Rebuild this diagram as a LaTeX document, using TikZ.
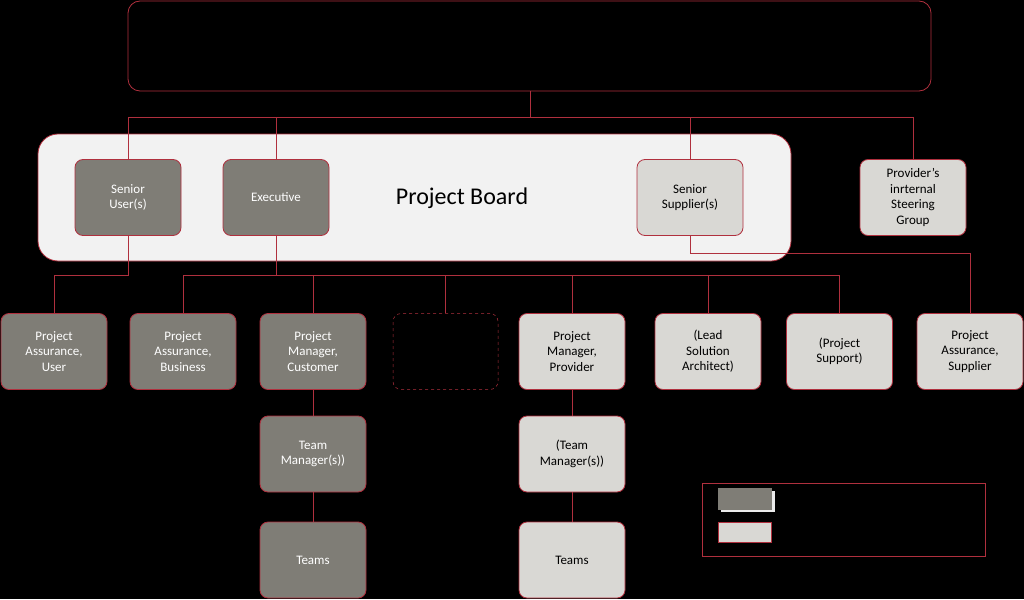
\documentclass[tikz,border=0pt]{standalone}
\usepackage{fontspec}
\setmainfont{Carlito}
\begin{document}
\begin{tikzpicture}[x=1pt,y=-1pt,
  ln/.style={draw=redc,line width=0.8pt},
  bx/.style={draw=redc,line width=0.8pt,rounded corners=8pt,minimum width=106pt,minimum height=76pt,align=center,font=\fontsize{13}{15.5}\selectfont,inner sep=1pt},
  dk/.style={bx,fill=darkg,text=white},
  lt/.style={bx,fill=lightg,text=black}]
\definecolor{redc}{HTML}{B0303E}
\definecolor{darkg}{HTML}{7F7D76}
\definecolor{lightg}{HTML}{D9D8D4}
\fill[black] (0,0) rectangle (1024,599);
\useasboundingbox (0,0) rectangle (1024,599);
\node[draw=redc,line width=0.8pt,rounded corners=12pt,minimum width=803pt,minimum height=90pt] (top) at (529.5,46) {};
\node[draw=redc,line width=0.8pt,fill=white!95!black,rounded corners=20pt,minimum width=753pt,minimum height=127pt] (board) at (414.5,197.5) {};
\node[font=\fontsize{24}{28}\selectfont] (pbl) at (462,198) {Project Board};
\node[dk] (su) at (128,197.5) {Senior\\User(s)};
\node[dk] (ex) at (276,197.5) {Executive};
\node[lt] (ss) at (690,197.5) {Senior\\Supplier(s)};
\node[lt] (psg) at (913,197.5) {Provider’s\\inrternal\\Steering\\Group};
\node[dk] (pau) at (54,351.5) {Project\\Assurance,\\User};
\node[dk] (pab) at (183,351.5) {Project\\Assurance,\\Business};
\node[dk] (pmc) at (313,351.5) {Project\\Manager,\\Customer};
\node[draw=redc,line width=0.5pt,dashed,rounded corners=8pt,minimum width=105pt,minimum height=76pt] (dsh) at (445.5,351.5) {};
\node[lt] (pmp) at (572,351.5) {Project\\Manager,\\Provider};
\node[lt] (lsa) at (708,351.5) {(Lead\\Solution\\Architect)};
\node[lt] (psu) at (839.5,351.5) {(Project\\Support)};
\node[lt] (pas) at (970,351.5) {Project\\Assurance,\\Supplier};
\node[dk] (tmc) at (313,454) {Team\\Manager(s))};
\node[dk] (tc) at (313,560) {Teams};
\node[lt] (tmp) at (572,454) {(Team\\Manager(s))};
\node[lt] (tp) at (572,560) {Teams};
% connectors
\coordinate (j) at (530,117);
\draw[ln] (top.south -| j) -- (j);
\draw[ln] (su.north) |- (psg.north |- j) -- (psg.north);
\draw[ln] (ex.north) -- (ex.north |- j);
\draw[ln] (ss.north) -- (ss.north |- j);
\draw[ln] (su.south) -- ++(0,39) -| (pau.north);
\draw[ln] (ex.south) -- ++(0,39) coordinate (e1);
\draw[ln] (pab.north) |- (psu.north |- e1) -- (psu.north);
\foreach \n in {pmc,dsh,pmp,lsa} \draw[ln] (\n.north) -- (\n.north |- e1);
\draw[ln] (ss.south) -- ++(0,17) -| (pas.north);
\draw[ln] (pmc) -- (tmc) -- (tc);
\draw[ln] (pmp) -- (tmp) -- (tp);
% legend
\node[draw=redc,line width=0.8pt,minimum width=283pt,minimum height=73pt] (leg) at (843.5,519.5) {};
\fill[white!92!black] (721,491) rectangle (775,512);
\node[fill=darkg,minimum width=54pt,minimum height=22pt,inner sep=0] (l1) at (745,499) {};
\node[fill=lightg,draw=redc,line width=0.8pt,minimum width=53pt,minimum height=20pt,inner sep=0] (l2) at (744.5,532) {};
\end{tikzpicture}
\end{document}
